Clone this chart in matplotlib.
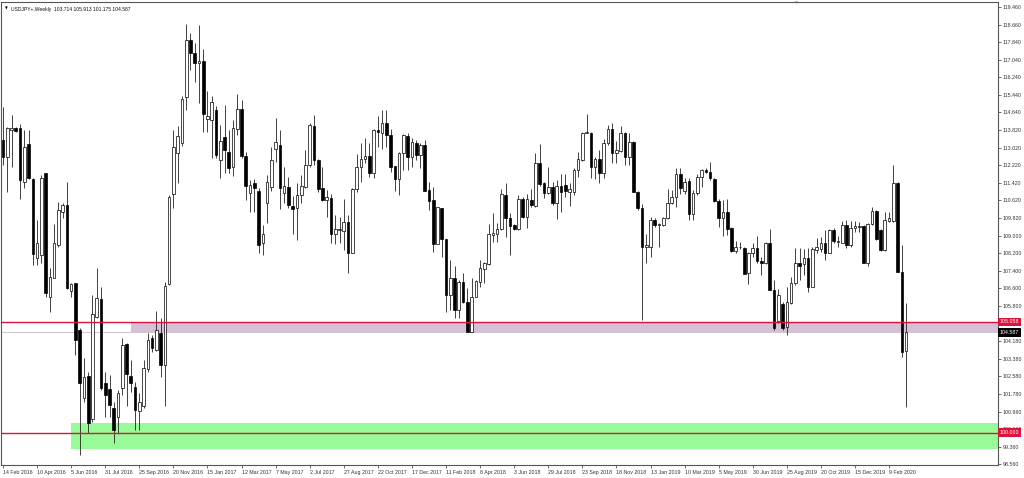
import numpy as np
import matplotlib
matplotlib.use('Agg')
import matplotlib.pyplot as plt
import matplotlib.transforms as mtransforms

# weekly USDJPY candles, first one = week of 14 Feb 2016
opens = [113.38, 112.59, 113.84, 113.91, 113.91, 111.47, 113.18, 111.60, 107.97, 108.12,
         111.85, 106.22, 107.05, 108.58, 110.10, 110.41, 106.49, 106.83, 104.69, 101.57,
         102.59, 100.61, 105.30, 106.11, 102.25, 101.98, 101.11, 100.73, 102.02, 104.05,
         102.59, 102.10, 101.00, 101.22, 102.89, 104.34, 103.78, 104.54, 103.09, 106.79,
         110.89, 112.77, 113.26, 115.36, 117.95, 117.34, 116.88, 117.00, 114.32, 114.29,
         114.75, 112.47, 113.53, 112.84, 112.16, 113.87, 114.78, 112.65, 110.94, 111.40,
         111.06, 108.68, 110.51, 111.24, 112.95, 113.15, 110.97, 111.24, 110.36, 110.26,
         110.86, 111.24, 112.24, 114.02, 112.46, 111.17, 110.64, 110.74, 109.08, 109.26,
         109.23, 109.64, 108.20, 111.12, 112.16, 112.50, 112.65, 111.85, 113.84, 113.71,
         114.14, 113.61, 112.19, 111.58, 112.77, 113.56, 112.62, 113.26, 112.69, 113.15,
         111.09, 110.64, 108.62, 110.26, 108.84, 106.29, 107.05, 105.60, 106.90, 105.99,
         104.62, 106.22, 106.90, 107.47, 107.69, 109.03, 109.08, 109.29, 110.86, 109.80,
         109.49, 109.29, 110.67, 109.87, 110.64, 110.36, 112.31, 111.40, 110.94, 111.21,
         110.48, 111.28, 111.32, 111.02, 111.02, 112.01, 112.46, 113.71, 113.71, 112.16,
         112.49, 111.85, 113.23, 113.87, 112.80, 112.89, 113.71, 112.62, 113.30, 111.02,
         110.25, 108.47, 108.50, 109.72, 109.49, 109.50, 109.80, 110.48, 110.76, 111.82,
         111.06, 111.52, 110.00, 110.94, 111.70, 112.01, 111.93, 111.58, 110.60, 109.80,
         110.10, 109.34, 108.32, 108.47, 108.42, 107.28, 108.20, 108.42, 107.86, 107.74,
         108.68, 106.52, 105.12, 105.90, 104.84, 105.94, 106.82, 107.74, 107.71, 107.97,
         106.67, 108.35, 108.38, 108.68, 108.23, 109.26, 108.70, 108.68, 109.49, 108.58,
         109.34, 109.39, 109.45, 107.74, 109.54, 110.15, 109.26, 108.35, 109.69, 109.69,
         111.43, 107.36, 103.714]
highs = [114.90, 113.99, 114.52, 113.99, 114.10, 113.84, 113.84, 111.63, 109.72, 111.78,
         111.85, 107.51, 109.54, 110.56, 110.48, 111.47, 106.83, 106.86, 104.77, 103.40,
         102.79, 106.29, 107.51, 106.67, 102.79, 102.63, 101.41, 101.95, 104.31, 104.11,
         103.32, 102.33, 101.80, 103.32, 104.54, 104.46, 105.56, 105.22, 106.90, 110.86,
         113.84, 114.00, 115.39, 118.68, 118.26, 117.80, 118.64, 117.52, 115.63, 115.39,
         114.93, 114.06, 114.98, 113.84, 114.29, 115.48, 115.21, 112.85, 111.55, 111.58,
         111.17, 109.49, 111.78, 113.07, 114.37, 113.84, 112.13, 111.70, 110.80, 111.40,
         111.78, 112.92, 114.17, 114.52, 112.50, 112.16, 111.09, 110.91, 109.95, 109.87,
         110.67, 109.95, 111.17, 112.74, 113.23, 113.46, 113.23, 113.87, 114.48, 114.75,
         114.75, 113.87, 112.19, 112.85, 113.65, 113.71, 113.46, 113.38, 113.23, 113.38,
         111.47, 111.21, 110.33, 110.26, 108.84, 107.89, 107.60, 106.98, 107.28, 106.60,
         107.05, 106.98, 107.89, 107.82, 109.54, 110.06, 109.57, 111.12, 111.40, 110.03,
         109.54, 110.86, 110.79, 110.91, 111.12, 112.77, 113.20, 111.47, 112.16, 111.47,
         111.55, 111.82, 111.82, 111.40, 112.08, 112.85, 113.76, 114.55, 113.76, 112.59,
         112.92, 113.41, 114.06, 114.17, 113.35, 114.02, 113.76, 113.68, 113.35, 111.06,
         110.45, 109.08, 109.87, 109.80, 109.57, 109.87, 111.12, 111.09, 112.08, 112.10,
         111.62, 111.62, 111.10, 111.82, 112.04, 112.08, 112.39, 111.63, 110.66, 110.63,
         110.66, 109.39, 108.78, 108.73, 108.50, 108.27, 108.65, 108.99, 108.04, 108.73,
         109.29, 106.98, 106.55, 105.95, 106.67, 107.13, 108.42, 108.42, 108.38, 108.42,
         108.50, 108.88, 108.96, 109.26, 109.29, 109.34, 109.00, 109.69, 109.72, 109.69,
         109.69, 109.64, 109.49, 109.57, 110.30, 110.18, 109.29, 110.10, 110.10, 112.24,
         111.47, 108.58, 105.913]
lows = [112.24, 111.02, 112.16, 113.75, 110.66, 111.17, 111.60, 107.66, 107.66, 107.74,
        106.22, 105.53, 107.05, 108.50, 109.80, 106.55, 106.22, 103.55, 98.98, 101.41,
        99.97, 100.50, 105.22, 101.95, 100.73, 100.73, 99.54, 99.97, 101.72, 101.22,
        101.87, 100.12, 100.12, 101.11, 102.79, 103.70, 103.75, 102.56, 101.22, 106.75,
        110.26, 111.40, 113.10, 114.75, 116.58, 116.05, 115.06, 113.76, 113.76, 112.54,
        112.54, 111.63, 111.86, 111.88, 111.73, 113.61, 112.54, 110.64, 110.10, 110.10,
        108.20, 108.12, 109.57, 111.06, 112.39, 110.21, 110.48, 110.26, 109.10, 108.80,
        110.48, 111.17, 112.16, 112.24, 111.00, 110.60, 109.87, 108.68, 108.62, 108.65,
        108.35, 107.31, 108.20, 111.00, 111.47, 112.31, 111.67, 111.63, 113.07, 112.95,
        113.07, 111.93, 111.06, 110.86, 112.01, 112.01, 112.16, 112.46, 112.08, 111.06,
        110.18, 108.27, 108.62, 108.05, 105.53, 105.61, 105.25, 105.25, 105.94, 104.62,
        104.62, 106.19, 106.67, 106.86, 107.66, 108.73, 108.73, 109.26, 108.96, 108.12,
        109.26, 109.26, 109.80, 109.34, 110.33, 110.33, 111.28, 110.71, 110.91, 110.41,
        109.75, 110.10, 110.79, 110.36, 110.86, 111.70, 112.43, 113.68, 111.63, 111.58,
        111.40, 111.63, 113.15, 112.31, 112.31, 112.84, 112.24, 112.24, 111.02, 110.20,
        105.15, 107.77, 108.04, 109.42, 108.50, 109.45, 109.75, 110.44, 110.33, 110.90,
        110.93, 109.72, 109.72, 110.86, 111.24, 111.85, 111.55, 110.56, 109.39, 108.99,
        109.03, 108.27, 108.23, 108.38, 107.25, 106.79, 108.04, 107.77, 107.21, 107.71,
        106.52, 104.69, 104.99, 104.69, 104.46, 105.88, 106.75, 106.98, 107.21, 106.44,
        106.64, 108.20, 108.27, 107.89, 108.20, 108.68, 108.50, 108.65, 108.43, 108.50,
        109.19, 109.19, 107.74, 107.62, 109.49, 108.81, 108.32, 108.32, 109.64, 109.64,
        107.36, 103.47, 101.175]
closes = [112.62, 113.91, 113.91, 113.80, 111.55, 113.07, 111.63, 108.17, 108.68, 111.63,
          106.37, 107.13, 108.65, 110.18, 110.41, 106.60, 106.78, 104.23, 102.25, 102.56,
          100.45, 105.42, 106.14, 102.02, 101.72, 101.26, 100.12, 101.80, 104.01, 102.68,
          102.28, 101.03, 101.41, 102.94, 104.23, 103.85, 104.69, 103.09, 106.72, 110.79,
          113.04, 113.56, 115.25, 117.95, 117.37, 116.88, 117.00, 114.57, 114.47, 115.13,
          112.69, 113.35, 112.92, 112.08, 113.91, 114.78, 112.65, 111.29, 111.32, 111.20,
          108.58, 109.08, 111.44, 112.47, 113.30, 111.17, 111.27, 110.41, 110.21, 110.86,
          111.27, 112.24, 114.06, 112.46, 111.12, 110.64, 110.76, 109.08, 109.29, 109.29,
          109.64, 108.23, 111.12, 112.16, 112.50, 112.65, 111.85, 113.84, 113.73, 114.14,
          113.61, 112.16, 111.58, 112.77, 113.61, 112.62, 113.30, 112.69, 113.15, 111.06,
          110.60, 108.62, 110.30, 108.84, 106.29, 107.05, 105.61, 106.90, 105.99, 104.62,
          106.22, 106.95, 107.51, 107.74, 109.08, 109.11, 109.29, 110.89, 109.80, 109.45,
          109.29, 110.67, 109.87, 110.67, 110.41, 112.31, 111.37, 110.94, 111.21, 110.48,
          111.28, 111.00, 111.06, 111.12, 112.01, 112.50, 113.71, 113.76, 112.16, 112.50,
          111.85, 113.23, 113.87, 112.80, 112.92, 113.71, 112.62, 113.30, 111.02, 110.25,
          108.47, 108.58, 109.72, 109.49, 109.52, 109.80, 110.48, 110.76, 111.82, 111.20,
          111.47, 110.00, 110.94, 111.70, 112.01, 111.93, 111.63, 110.60, 109.80, 110.10,
          109.31, 108.32, 108.47, 108.50, 107.25, 108.23, 108.42, 107.86, 107.74, 108.68,
          106.52, 104.77, 106.29, 104.77, 105.99, 106.82, 107.74, 107.62, 107.97, 106.67,
          108.38, 108.47, 108.68, 108.23, 109.26, 108.78, 108.78, 109.49, 108.58, 109.34,
          109.45, 109.45, 107.77, 109.54, 110.15, 108.84, 108.35, 109.72, 109.80, 111.43,
          107.36, 103.70, 104.587]

date_labels = ['14 Feb 2016', '10 Apr 2016', '5 Jun 2016', '31 Jul 2016', '25 Sep 2016',
               '20 Nov 2016', '15 Jan 2017', '12 Mar 2017', '7 May 2017', '2 Jul 2017',
               '27 Aug 2017', '22 Oct 2017', '17 Dec 2017', '11 Feb 2018', '8 Apr 2018',
               '3 Jun 2018', '29 Jul 2018', '23 Sep 2018', '18 Nov 2018', '13 Jan 2019',
               '10 Mar 2019', '5 May 2019', '30 Jun 2019', '25 Aug 2019', '20 Oct 2019',
               '15 Dec 2019', '9 Feb 2020']
date_weeks = [8 * k for k in range(len(date_labels))]

price_ticks = [119.46, 118.66, 117.84, 117.04, 116.24, 115.44, 114.64, 113.82, 113.02,
               112.22, 111.42, 110.62, 109.82, 109.00, 108.20, 107.40, 106.60, 105.80,
               104.98, 104.18, 103.38, 102.58, 101.78, 100.96, 100.16, 99.36, 98.56]
hidden_ticks = [104.98]   # covered by the 105.058 tag in the reference

upper_level = 105.058
lower_level = 100.000
bid = 104.587
purple_zone = (104.58, 105.058, 30)   # bottom, top, start week
green_zone = (99.23, 100.45, 16)

o = np.array(opens); h = np.array(highs); l = np.array(lows); c = np.array(closes)
idx = np.arange(len(o))
up = c >= o

fig = plt.figure(figsize=(10.24, 4.78), dpi=100)
ax = fig.add_axes([1 / 1024, 13 / 478, 997 / 1024, 463 / 478])
ax.set_xlim(-0.47, 233.57)
ax.set_ylim(98.518, 119.689)

x_end = 233.57
# zones
ax.fill_between([purple_zone[2], x_end], purple_zone[0], purple_zone[1],
                color='#D8BFD8', lw=0, zorder=0.6)
ax.fill_between([green_zone[2], x_end], green_zone[0], green_zone[1],
                color='#98FB98', lw=0, zorder=0.6)
ax.axhline(bid, color='#C8C8C8', lw=0.7, zorder=0.5)

# candles
ax.vlines(idx, l, h, color='#222222', lw=0.6, zorder=2)
hu = np.maximum(c[up] - o[up], 0.03)
ax.bar(idx[up], hu, bottom=o[up], width=0.62, color='white',
       edgecolor='black', linewidth=0.5, zorder=3)
hd = np.maximum(o[~up] - c[~up], 0.03)
ax.bar(idx[~up], hd, bottom=c[~up], width=0.62, color='black',
       edgecolor='black', linewidth=0.5, zorder=3)

ax.axhline(upper_level, color='#DC143C', lw=1.0, zorder=4)
ax.axhline(lower_level, color='#DC143C', lw=1.0, zorder=4)

# axes styling
for s in ax.spines.values():
    s.set_color('#555555')
    s.set_linewidth(0.8)
ax.yaxis.tick_right()
ax.set_yticks(price_ticks)
ax.set_yticklabels(['' if v in hidden_ticks else '%.3f' % v for v in price_ticks])
ax.tick_params(axis='y', direction='out', length=2, width=0.5, pad=1.2,
               labelsize=3.8, colors='#333333')
ax.set_xticks(date_weeks)
ax.set_xticklabels(date_labels, ha='left')
ax.tick_params(axis='x', direction='out', length=2.5, width=0.5, pad=1.0,
               labelsize=3.8, colors='#333333')
for t in ax.get_xticklabels() + ax.get_yticklabels():
    t.set_family('Liberation Sans')

# price tags on the right axis
trans = mtransforms.blended_transform_factory(ax.transAxes, ax.transData)
for val, bg in [(upper_level, '#DC143C'), (bid, 'black'), (lower_level, '#DC143C')]:
    ax.text(1.0015, val, '%.3f' % val, transform=trans, fontsize=3.8,
            family='Liberation Sans', color='white', va='center', ha='left',
            clip_on=False, zorder=10,
            bbox=dict(boxstyle='square,pad=0.35', fc=bg, ec=bg, lw=0))

# title
fig.text(5 / 1024, 1 - 9 / 478, '\u25BC', fontsize=2.6, color='black', va='center')
fig.text(11 / 1024, 1 - 9 / 478,
         'USDJPY+,Weekly  103.714 105.913 101.175 104.587',
         fontsize=3.6, family='Liberation Sans', color='#111111', va='center')

# chart shift marker
fig.text(797 / 1024, 1 - 3 / 478, '\u25BD', fontsize=3, color='#888888',
         ha='center', va='center')

fig.savefig('out.png', dpi=100)
